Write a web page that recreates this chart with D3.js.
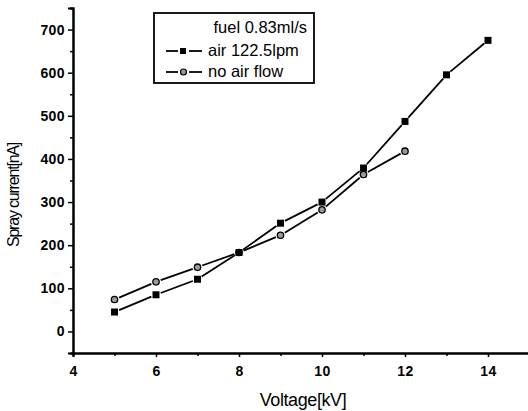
<!DOCTYPE html>
<html>
<head>
<meta charset="utf-8">
<script src="https://cdn.jsdelivr.net/npm/d3@7"></script>
<style>
  body { margin: 0; background: #fff; }
  svg { display: block; font-family: 'Liberation Sans', Arial, sans-serif; }
</style>
</head>
<body>
<div id="chart"></div>
<script>
// data
const voltageAir = [5, 6, 7, 8, 9, 10, 11, 12, 13, 14];
const currentAir = [45, 85, 121, 183, 251, 300, 379, 487, 595, 675];
const voltageNoAir = [5, 6, 7, 8, 9, 10, 11, 12];
const currentNoAir = [74, 115, 149, 183, 223, 282, 364, 418];
const xTicks = [4, 6, 8, 10, 12, 14];
const yTicks = [0, 100, 200, 300, 400, 500, 600, 700];
const legendTitle = 'fuel 0.83ml/s';
const seriesNames = ['air 122.5lpm', 'no air flow'];

const W = 528, H = 411;
const margin = { top: 8, right: 0, bottom: 58, left: 73 },
      width = W - margin.left - margin.right,
      height = H - margin.top - margin.bottom;

const svg = d3.select('#chart')
  .append('svg')
    .attr('width', W)
    .attr('height', H)
  .append('g')
    .attr('transform', 'translate(' + margin.left + ',' + margin.top + ')');

const x = d3.scaleLinear().domain([4, 15]).range([0, 456.5]);
const y = d3.scaleLinear().domain([-50, 750]).range([height, 0]);

// axes
svg.append('g')
  .attr('transform', 'translate(0,' + height + ')')
  .call(d3.axisBottom(x).tickValues(xTicks).tickSize(4).tickPadding(9));
svg.append('g')
  .attr('transform', 'translate(0,' + height + ')')
  .call(d3.axisBottom(x).tickValues([5, 7, 9, 11, 13, 15]).tickSize(3).tickFormat(''));

svg.append('g')
  .call(d3.axisLeft(y).tickValues(yTicks).tickSize(5).tickPadding(3));
svg.append('g')
  .call(d3.axisLeft(y).tickValues([-50, 50, 150, 250, 350, 450, 550, 650, 750]).tickSize(3).tickFormat(''));

svg.selectAll('.domain').attr('stroke', '#000').attr('stroke-width', 2);
svg.selectAll('.tick line').attr('stroke', '#000').attr('stroke-width', 1.5);
svg.selectAll('.tick text')
  .attr('fill', '#000')
  .style('font-size', '14px')
  .style('font-weight', 'bold')
  .style('letter-spacing', '0.4px');

// axis titles
svg.append('text')
  .attr('x', 303 - margin.left)
  .attr('y', 406 - margin.top)
  .attr('text-anchor', 'middle')
  .style('font-size', '18px')
  .style('letter-spacing', '-0.4px')
  .text('Voltage[kV]');

svg.append('text')
  .attr('transform', 'translate(' + (19 - margin.left) + ',' + (195 - margin.top) + ') rotate(-90)')
  .attr('text-anchor', 'middle')
  .style('font-size', '16px')
  .style('letter-spacing', '-1.2px')
  .text('Spray current[nA]');

// lines drawn as segments with a small gap around each marker
const gap = 5;
function segments(xs, ys) {
  const pts = xs.map((v, i) => [x(v), y(ys[i])]);
  const segs = [];
  for (let i = 0; i < pts.length - 1; i++) {
    const [x1, y1] = pts[i], [x2, y2] = pts[i + 1];
    const len = Math.hypot(x2 - x1, y2 - y1);
    const ux = (x2 - x1) / len, uy = (y2 - y1) / len;
    segs.push([x1 + ux * gap, y1 + uy * gap, x2 - ux * gap, y2 - uy * gap]);
  }
  return segs;
}

function drawSeries(xs, ys) {
  svg.append('g').selectAll('line')
    .data(segments(xs, ys))
    .enter().append('line')
      .attr('x1', (d) => d[0]).attr('y1', (d) => d[1])
      .attr('x2', (d) => d[2]).attr('y2', (d) => d[3])
      .attr('stroke', '#000')
      .attr('stroke-width', 1.8);
}

drawSeries(voltageNoAir, currentNoAir);
drawSeries(voltageAir, currentAir);

svg.append('g').selectAll('circle')
  .data(voltageNoAir)
  .enter().append('circle')
    .attr('cx', (d) => x(d))
    .attr('cy', (d, i) => y(currentNoAir[i]))
    .attr('r', 3.2)
    .attr('fill', '#999')
    .attr('stroke', '#000')
    .attr('stroke-width', 1.3);

svg.append('g').selectAll('rect')
  .data(voltageAir)
  .enter().append('rect')
    .attr('x', (d) => x(d) - 3.5)
    .attr('y', (d, i) => y(currentAir[i]) - 3.5)
    .attr('width', 7)
    .attr('height', 7)
    .attr('fill', '#000');

// legend
const legend = svg.append('g')
  .attr('transform', 'translate(' + (154 - margin.left) + ',' + (13 - margin.top) + ')');
legend.append('rect')
  .attr('width', 160)
  .attr('height', 70)
  .attr('fill', '#fff')
  .attr('stroke', '#000')
  .attr('stroke-width', 1.8);
legend.append('text')
  .attr('x', 153)
  .attr('y', 20)
  .attr('text-anchor', 'end')
  .style('font-size', '16.5px')
  .text(legendTitle);

seriesNames.forEach((name, i) => {
  const cy = 38 + i * 21;
  const row = legend.append('g');
  row.append('line').attr('x1', 12).attr('x2', 24).attr('y1', cy).attr('y2', cy)
    .attr('stroke', '#000').attr('stroke-width', 1.8);
  row.append('line').attr('x1', 35).attr('x2', 48).attr('y1', cy).attr('y2', cy)
    .attr('stroke', '#000').attr('stroke-width', 1.8);
  if (i === 0) {
    row.append('rect').attr('x', 26).attr('y', cy - 3).attr('width', 6).attr('height', 6)
      .attr('fill', '#000');
  } else {
    row.append('circle').attr('cx', 29.5).attr('cy', cy).attr('r', 3)
      .attr('fill', '#999').attr('stroke', '#000').attr('stroke-width', 1.2);
  }
  row.append('text')
    .attr('x', 54)
    .attr('y', cy + 5)
    .style('font-size', '16.5px')
    .text(name);
});
</script>
</body>
</html>
